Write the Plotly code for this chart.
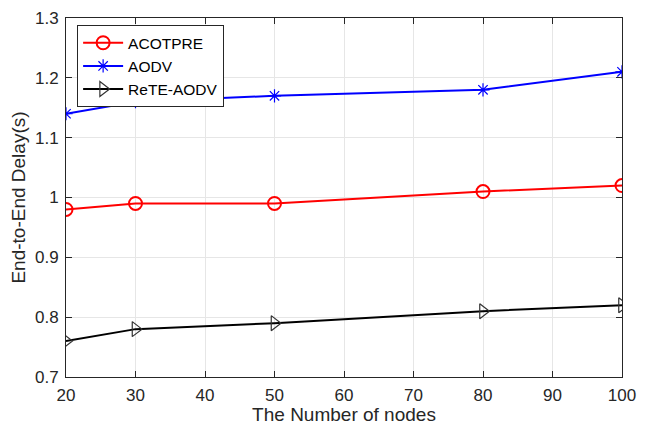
import plotly.graph_objects as go

nodes = [20, 30, 50, 80, 100]
acotpre = [0.98, 0.99, 0.99, 1.01, 1.02]
aodv = [1.14, 1.16, 1.17, 1.18, 1.21]
rete_aodv = [0.76, 0.78, 0.79, 0.81, 0.82]

FONT = "Liberation Sans, Arial, Helvetica"

fig = go.Figure()
fig.add_trace(go.Scatter(x=nodes, y=acotpre, name="ACOTPRE", mode="lines+markers",
                         line=dict(color="#ff0000", width=2),
                         marker=dict(symbol="circle-open", size=13, color="#ff0000", line=dict(width=2))))
fig.add_trace(go.Scatter(x=nodes, y=aodv, name="AODV", mode="lines+markers",
                         line=dict(color="#0000ff", width=2),
                         marker=dict(symbol="asterisk-open", size=11, color="#0000ff", line=dict(width=1.2, color="#0000ff"))))
fig.add_trace(go.Scatter(x=nodes, y=rete_aodv, name="ReTE-AODV", mode="lines+markers",
                         line=dict(color="#000000", width=2),
                         marker=dict(symbol="triangle-right-open", size=13, color="#333333", line=dict(width=1.2))))

axis_common = dict(showline=True, linecolor="#262626", linewidth=1, mirror="ticks",
                   ticks="inside", ticklen=6, tickcolor="#262626",
                   showgrid=True, gridcolor="#e6e6e6", gridwidth=1, zeroline=False,
                   automargin=False, ticklabeloverflow="allow",
                   tickfont=dict(family=FONT, size=17, color="#262626"),
                   title_font=dict(family=FONT, size=19, color="#262626"))

fig.update_xaxes(range=[20, 100], dtick=10, title_text="The Number of nodes",
                 title_standoff=6, ticklabelstandoff=3, **axis_common)
fig.update_yaxes(range=[0.7, 1.3], dtick=0.1, tickformat=".1~f", title_text="End-to-End Delay(s)",
                 title_standoff=10, ticklabelstandoff=3, **axis_common)

# page body has an 8px default margin; size the figure so the page does not overflow the 645x433 window
fig.update_layout(
    width=629, height=417,
    margin=dict(l=58, r=15, t=10, b=48),
    paper_bgcolor="white", plot_bgcolor="white",
    font=dict(family=FONT, color="#262626"),
    legend=dict(x=0.02, y=0.98, xanchor="left", yanchor="top",
                bgcolor="white", bordercolor="#262626", borderwidth=1,
                font=dict(size=15.5, family=FONT, color="#000000"), tracegroupgap=0,
                itemwidth=40),
    showlegend=True,
)

fig.write_html("out.html")
